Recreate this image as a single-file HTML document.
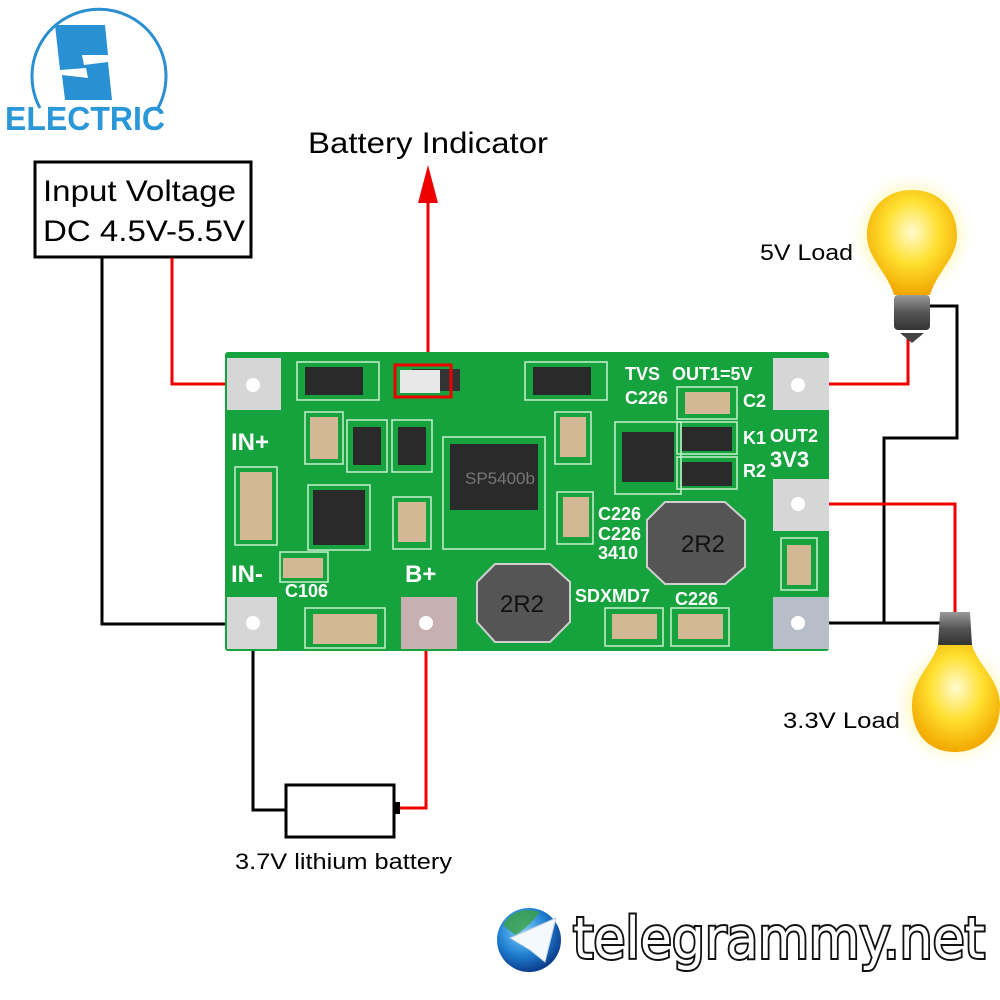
<!DOCTYPE html>
<html><head><style>
body{margin:0;width:1000px;height:1000px;background:#fff;position:relative;overflow:hidden;font-family:"Liberation Sans",sans-serif}
.a{position:absolute}
</style></head><body>
<svg class="a" style="left:0;top:0" width="1000" height="1000">
<defs>
<radialGradient id="bg" cx="50%" cy="40%" r="60%"><stop offset="0" stop-color="#fffbd0"/><stop offset="0.5" stop-color="#ffe030"/><stop offset="1" stop-color="#f2a800"/></radialGradient>
<radialGradient id="glow" cx="50%" cy="50%" r="50%"><stop offset="0.6" stop-color="#fff6a0" stop-opacity="0.8"/><stop offset="1" stop-color="#fff" stop-opacity="0"/></radialGradient>
<radialGradient id="globe" cx="40%" cy="35%" r="65%"><stop offset="0" stop-color="#7fd0ff"/><stop offset="0.6" stop-color="#1f7fd0"/><stop offset="1" stop-color="#0d3f8f"/></radialGradient>
<linearGradient id="ind" x1="0" y1="0" x2="0" y2="1"><stop offset="0" stop-color="#9a9a9a"/><stop offset="0.5" stop-color="#555"/><stop offset="1" stop-color="#333"/></linearGradient>
</defs>
<path d="M40 108 A67 67 0 1 1 158 108" fill="none" stroke="#2a8fd0" stroke-width="3"/>
<path d="M55 25 L105 25 L108 55 L82 55 L84 65 L108 62 L112 100 L65 100 L62 75 L88 78 L86 68 L60 70 Z" fill="#2a90d4"/>
<text x="5" y="130" font-family="Liberation Sans" font-weight="bold" font-size="33" fill="#2a98d8" textLength="160" lengthAdjust="spacingAndGlyphs">ELECTRIC</text>
<rect x="35" y="162" width="216" height="95" fill="#fff" stroke="#000" stroke-width="3"/>
<text x="43" y="201" font-size="30" fill="#000" textLength="193" lengthAdjust="spacingAndGlyphs">Input Voltage</text>
<text x="43" y="241" font-size="30" fill="#000" textLength="202" lengthAdjust="spacingAndGlyphs">DC 4.5V-5.5V</text>
<text x="308" y="153" font-size="30" fill="#000" textLength="240" lengthAdjust="spacingAndGlyphs">Battery Indicator</text>
<polyline points="102,258 102,624 253,624" fill="none" stroke="#000" stroke-width="3"/>
<polyline points="172,258 172,384 253,384" fill="none" stroke="#e00" stroke-width="3"/>
<line x1="428" y1="370" x2="428" y2="195" stroke="#e00" stroke-width="3"/>
<polygon points="428,165 418,203 438,203" fill="#e00"/>
<polyline points="253,624 253,810 287,810" fill="none" stroke="#000" stroke-width="3"/>
<polyline points="426,624 426,808 395,808" fill="none" stroke="#e00" stroke-width="3"/>
<rect x="286" y="785" width="108" height="52" fill="#fff" stroke="#000" stroke-width="3"/>
<rect x="393" y="802" width="7" height="12" fill="#000"/>
<text x="235" y="869" font-size="22" fill="#000" textLength="217" lengthAdjust="spacingAndGlyphs">3.7V lithium battery</text>
<polyline points="798,384 908,384 908,335" fill="none" stroke="#e00" stroke-width="3"/>
<polyline points="925,306 957,306 957,438 884,438 884,623" fill="none" stroke="#000" stroke-width="3"/>
<polyline points="798,623 948,623" fill="none" stroke="#000" stroke-width="3"/>
<polyline points="798,504 955,504 955,615" fill="none" stroke="#e00" stroke-width="3"/>
<text x="760" y="260" font-size="22" fill="#000" textLength="93" lengthAdjust="spacingAndGlyphs">5V Load</text>
<text x="783" y="728" font-size="22" fill="#000" textLength="117" lengthAdjust="spacingAndGlyphs">3.3V Load</text>
<circle cx="912" cy="235" r="65" fill="url(#glow)"/>
<path d="M912 190 C940 190 957 210 957 235 C957 258 938 270 930 295 L894 295 C886 270 867 258 867 235 C867 210 884 190 912 190 Z" fill="url(#bg)"/>
<rect x="894" y="295" width="36" height="35" rx="4" fill="url(#ind)"/>
<path d="M900 333 L924 333 L912 343 Z" fill="#444"/>
<circle cx="955" cy="705" r="65" fill="url(#glow)"/>
<path d="M940 612 L970 612 L972 645 L938 645 Z" fill="url(#ind)"/>
<path d="M938 645 L972 645 C978 665 1000 680 1000 705 C1000 735 980 752 955 752 C930 752 912 735 912 705 C912 680 932 665 938 645 Z" fill="url(#bg)"/>
<circle cx="529" cy="940" r="32" fill="url(#globe)"/>
<path d="M510 938 L556 918 L545 962 L530 950 Z" fill="#f4f8ff" stroke="#bcd" stroke-width="1"/>
<path d="M503 925 Q515 905 540 912 Q528 928 515 935Z" fill="#3aa040" opacity="0.8"/>
<text x="573" y="958" font-size="57" fill="#fff" stroke="#111" stroke-width="4" paint-order="stroke" textLength="412" lengthAdjust="spacingAndGlyphs" font-family="DejaVu Sans">telegrammy.net</text>
</svg>

<div class="a" style="left:225px;top:352px;width:604px;height:299px;background:#16a23c;border-radius:3px"></div>
<svg class="a" style="left:225px;top:352px" width="604" height="299">
<g fill="none" stroke="#c8f0d0" stroke-width="1.5">
<rect x="72" y="10" width="82" height="38"/><rect x="300" y="10" width="82" height="38"/>
<rect x="80" y="60" width="38" height="52"/><rect x="122" y="68" width="40" height="52"/><rect x="167" y="68" width="40" height="52"/>
<rect x="218" y="85" width="102" height="112"/><rect x="330" y="60" width="36" height="52"/><rect x="332" y="140" width="36" height="52"/>
<rect x="10" y="115" width="42" height="78"/><rect x="83" y="133" width="62" height="65"/><rect x="168" y="145" width="38" height="52"/>
<rect x="390" y="70" width="66" height="72"/><rect x="452" y="35" width="60" height="32"/><rect x="452" y="70" width="60" height="32"/><rect x="452" y="105" width="60" height="32"/>
<rect x="55" y="200" width="48" height="30"/><rect x="80" y="256" width="80" height="40"/><rect x="380" y="256" width="58" height="38"/><rect x="446" y="256" width="58" height="38"/><rect x="556" y="186" width="36" height="52"/>
</g>
<g fill="#d6d6d6">
<rect x="2" y="6" width="54" height="52"/>
<rect x="2" y="245" width="50" height="52"/>
<rect x="176" y="245" width="56" height="52" fill="#c9b0b0"/>
<rect x="548" y="6" width="56" height="52"/>
<rect x="548" y="127" width="56" height="52"/>
<rect x="548" y="245" width="56" height="52" fill="#b8bec8"/>
</g>
<g fill="#fff"><circle cx="28" cy="33" r="7"/><circle cx="28" cy="271" r="7"/><circle cx="201" cy="271" r="7"/><circle cx="573" cy="33" r="7"/><circle cx="573" cy="152" r="7"/><circle cx="573" cy="271" r="7"/></g>
<g fill="#2a2a2a">
<rect x="80" y="15" width="58" height="28"/>
<rect x="308" y="15" width="58" height="28"/>
<rect x="225" y="92" width="88" height="66"/>
<rect x="397" y="80" width="52" height="50"/>
<rect x="88" y="138" width="52" height="55"/>
<rect x="187" y="17" width="48" height="22" fill="#333"/>
<rect x="128" y="75" width="28" height="38"/>
<rect x="173" y="75" width="28" height="38"/>
<rect x="457" y="75" width="50" height="24"/>
<rect x="457" y="110" width="50" height="24"/>
</g>
<rect x="175" y="18" width="40" height="23" fill="#e8e8e8"/>
<rect x="170" y="13" width="56" height="32" fill="none" stroke="#e00" stroke-width="3"/>
<g fill="#d4b896">
<rect x="85" y="65" width="28" height="42"/><rect x="15" y="120" width="32" height="68"/>
<rect x="173" y="150" width="28" height="40"/><rect x="335" y="65" width="26" height="40"/>
<rect x="338" y="145" width="26" height="40"/><rect x="88" y="262" width="64" height="30"/>
<rect x="387" y="262" width="45" height="25"/><rect x="453" y="262" width="45" height="25"/>
<rect x="562" y="193" width="24" height="40"/><rect x="460" y="40" width="45" height="22"/>
<rect x="58" y="206" width="40" height="20"/>
</g>
<g fill="#555" stroke="#cfcfcf" stroke-width="2">
<polygon points="270,212 325,212 345,230 345,270 325,290 270,290 252,270 252,230"/>
<polygon points="440,150 500,150 520,168 520,215 500,232 440,232 422,215 422,168"/>
</g>
<g fill="#111" font-family="Liberation Sans" font-size="24">
<text x="275" y="260">2R2</text><text x="456" y="200">2R2</text>
</g>
<text x="240" y="132" fill="#777" font-size="17" font-family="Liberation Sans">SP5400b</text>
<g fill="#fff" font-family="Liberation Sans" font-weight="bold" font-size="18">
<text x="6" y="98" font-size="24">IN+</text><text x="6" y="230" font-size="24">IN-</text>
<text x="180" y="230" font-size="24">B+</text>
<text x="400" y="28">TVS</text><text x="447" y="28">OUT1=5V</text>
<text x="400" y="52">C226</text><text x="518" y="55">C2</text>
<text x="518" y="92">K1</text><text x="518" y="125">R2</text>
<text x="545" y="90">OUT2</text><text x="545" y="115" font-size="22">3V3</text>
<text x="373" y="168">C226</text><text x="373" y="188">C226</text><text x="373" y="207">3410</text>
<text x="350" y="250">SDXMD7</text><text x="450" y="253">C226</text>
<text x="60" y="245">C106</text>
</g>
</svg>
</body></html>
